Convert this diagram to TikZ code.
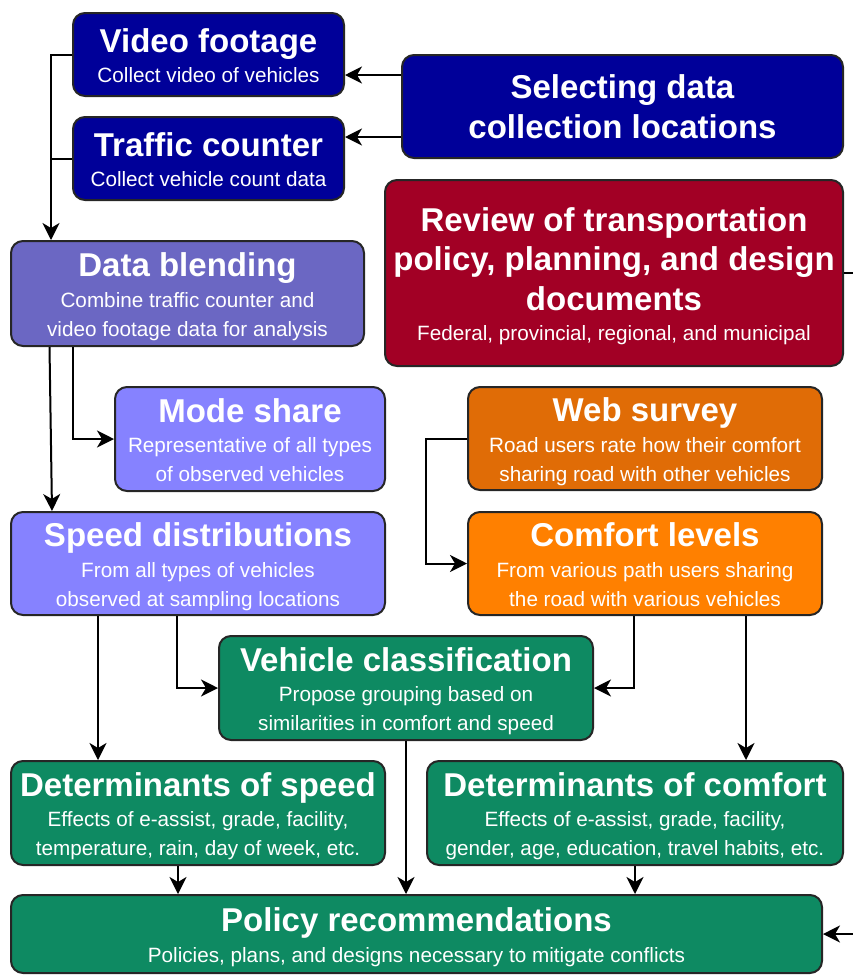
\documentclass[tikz,border=0pt]{standalone}
\usepackage{fontspec}
\setmainfont{Liberation Sans}
\usetikzlibrary{arrows.meta}

\definecolor{sitecolor}{HTML}{000099}
\definecolor{policycolor}{HTML}{A20025}
\definecolor{blendcolor}{HTML}{6B67C3}
\definecolor{speedcolor}{HTML}{8682FF}
\definecolor{surveycolor}{HTML}{E06C06}
\definecolor{comfortcolor}{HTML}{FF8000}
\definecolor{resultcolor}{HTML}{0E8A62}

\newcommand{\boxtitle}{\fontsize{33}{40}\selectfont\bfseries}
\newcommand{\boxsub}{\fontsize{20.7}{29}\selectfont
	\baselineskip=0pt \lineskip=0pt \lineskiplimit=0pt}
\newcommand{\headline}[1]{{\boxtitle\rule[-9.6pt]{0pt}{43.3pt}#1}}
\newcommand{\subline}[1]{\rule[-8pt]{0pt}{29pt}#1}

\begin{document}
\begin{tikzpicture}[x=1pt, y=-1pt,
	stage/.style={draw=black!85, line width=2pt, rounded corners=12pt,
		text=white, inner sep=0pt, align=center, font=\boxsub},
	feed/.style={line width=2pt, -{Stealth[length=17pt,width=17pt,inset=5pt]}}]
	\useasboundingbox (0,0) rectangle (853,975);

	\node
		[stage, fill=sitecolor, minimum width=271pt, minimum height=83pt]
		(video) at (208.5,54.5)
		{\headline{Video footage}\\ \subline{Collect video of vehicles}};

	\node
		[stage, fill=sitecolor, minimum width=271pt, minimum height=83pt]
		(traffic) at (208.5,158.5)
		{\headline{Traffic counter}\\ \subline{Collect vehicle count data}};

	\node
		[stage, fill=sitecolor, minimum width=441pt, minimum height=103pt]
		(select) at (622.5,106.5)
		{\headline{Selecting data}\\[-3.3pt] \headline{collection locations}};

	\node
		[stage, fill=policycolor, minimum width=458pt, minimum height=186pt]
		(review) at (614,273)
		{\headline{Review of transportation}\\[-3.8pt]
		\headline{policy, planning, and design}\\[-3.8pt]
		\headline{documents}\\
		\subline{Federal, provincial, regional, and municipal}};

	\node
		[stage, fill=blendcolor, minimum width=353pt, minimum height=105pt]
		(blend) at (187.5,293.5)
		{\headline{Data blending}\\ \subline{Combine traffic counter and}\\
		\subline{video footage data for analysis}};

	\node
		[stage, fill=speedcolor, minimum width=270pt, minimum height=104pt]
		(mode) at (250,439)
		{\headline{Mode share}\\ \subline{Representative of all types}\\
		\subline{of observed vehicles}};

	\node
		[stage, fill=speedcolor, minimum width=374pt, minimum height=103pt]
		(speed) at (198,563.5)
		{\headline{Speed distributions}\\ \subline{From all types of vehicles}\\
		\subline{observed at sampling locations}};

	\node
		[stage, fill=surveycolor, minimum width=354pt, minimum height=103pt]
		(web) at (645,438.5)
		{\headline{Web survey}\\ \subline{Road users rate how their comfort}\\
		\subline{sharing road with other vehicles}};

	\node
		[stage, fill=comfortcolor, minimum width=354pt, minimum height=103pt]
		(comfort) at (645,563.5)
		{\headline{Comfort levels}\\ \subline{From various path users sharing}\\
		\subline{the road with various vehicles}};

	\node
		[stage, fill=resultcolor, minimum width=374pt, minimum height=104pt]
		(classif) at (406,688)
		{\headline{Vehicle classification}\\ \subline{Propose grouping based on}\\
		\subline{similarities in comfort and speed}};

	\node
		[stage, fill=resultcolor, minimum width=374pt, minimum height=104pt]
		(detspeed) at (198,813)
		{\headline{Determinants of speed}\\ \subline{Effects of e-assist, grade, facility,}\\
		\subline{temperature, rain, day of week, etc.}};

	\node
		[stage, fill=resultcolor, minimum width=416pt, minimum height=104pt]
		(detcomfort) at (635,813)
		{\headline{Determinants of comfort}\\ \subline{Effects of e-assist, grade, facility,}\\
		\subline{gender, age, education, travel habits, etc.}};

	\node
		[stage, fill=resultcolor, minimum width=811pt, minimum height=78pt]
		(policy) at (416.5,934)
		{\headline{Policy recommendations}\\
		\subline{Policies, plans, and designs necessary to mitigate conflicts}};

	\draw
		[feed] ([yshift=31.5pt]select.west) -- ([yshift=31.5pt]select.west -| video.east);

	\draw
		[feed] ([yshift=-30.5pt]select.west) -- ([yshift=-30.5pt]select.west -| traffic.east);

	\draw
		[feed] (video.west) -- ++(-21,0) coordinate (gather) -- (gather |- blend.north);

	\draw
		[line width=2pt] (traffic.west) -- (traffic.west -| gather);

	\draw
		[feed] ([xshift=-114.5pt]blend.south) |- (mode.west);

	\draw
		[feed] ([xshift=-138pt]blend.south) -- ([xshift=-146pt]speed.north);

	\draw
		[feed] (web.west) -- ++(-41,0) |- (comfort.west);

	\draw
		[feed] ([xshift=-100pt]speed.south) -- ([xshift=-100pt]detspeed.north);

	\draw
		[feed] ([xshift=-21pt]speed.south) |- (classif.west);

	\draw
		[feed] ([xshift=-11pt]comfort.south) |- (classif.east);

	\draw
		[feed] ([xshift=101pt]comfort.south) -- ([xshift=111pt]detcomfort.north);

	\draw
		[feed] (classif.south) -- (classif.south |- policy.north);

	\draw
		[feed] ([xshift=-20pt]detspeed.south) -- ([xshift=-20pt]detspeed.south |- policy.north);

	\draw
		[feed] (detcomfort.south) -- (detcomfort.south |- policy.north);

	\draw
		[feed] (review.east) -- ++(30,0) |- (policy.east);
\end{tikzpicture}
\end{document}
